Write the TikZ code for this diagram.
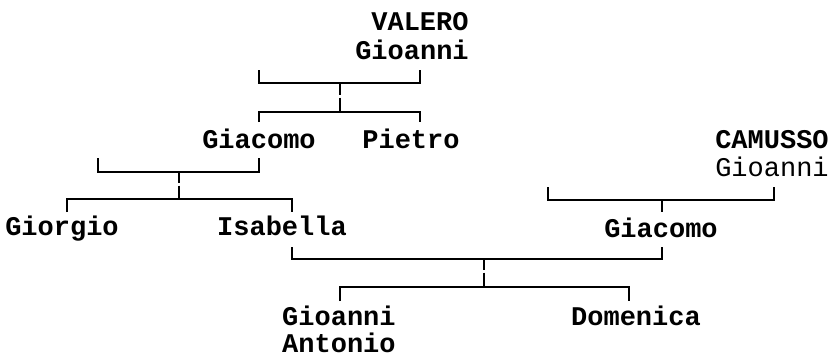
\documentclass[tikz,border=0pt]{standalone}
\usepackage{fontspec}
\setmonofont{Liberation Mono}
\begin{document}
\begin{tikzpicture}[x=1pt,y=-1pt,
  person/.style={font=\ttfamily\bfseries\fontsize{27}{27}\selectfont, inner sep=0pt, anchor=base},
  lightperson/.style={font=\ttfamily\fontsize{27}{27}\selectfont, inner sep=0pt, anchor=base},
  link/.style={line width=2pt, line cap=butt, line join=miter}]
\useasboundingbox (0,0) rectangle (830,356);
% names
\node[person] (valero) at (420,30) {VALERO};
\node[person] (gioV) at (412,59) {Gioanni};
\node[person] (giacV) at (259,148) {Giacomo};
\node[person] (pietro) at (411,148) {Pietro};
\node[person] (giorgio) at (62,235) {Giorgio};
\node[person] (isabella) at (282,235) {Isabella};
\node[person] (camusso) at (772,148) {CAMUSSO};
\node[lightperson] (gioC) at (772,176) {Gioanni};
\node[person] (giacC) at (661,237) {Giacomo};
\node[person, anchor=base west] (gioA) at (282,325) {Gioanni};
\node[person, anchor=base west] (antonio) at (282,352) {Antonio};
\node[person] (domenica) at (636,325) {Domenica};
% bracket 1
\coordinate (a1) at (259,70); \coordinate (a2) at (420,70);
\coordinate (am) at (340,83); \coordinate (an) at (340,112);
\coordinate (ab1) at (259,122); \coordinate (ab2) at (420,122);
\draw[link] (a1) |- (am) -| (a2);
\draw[link] (am) -- ++(0,12) ++(0,2.5) -- (an);
\draw[link] (ab1) |- (an) -| (ab2);
% bracket 2
\coordinate (b1) at (98,158); \coordinate (b2) at (259,158);
\coordinate (bm) at (179,172); \coordinate (bn) at (179,199);
\coordinate (bb1) at (67,212); \coordinate (bb2) at (292,212);
\draw[link] (b1) |- (bm) -| (b2);
\draw[link] (bm) -- ++(0,11) ++(0,2.5) -- (bn);
\draw[link] (bb1) |- (bn) -| (bb2);
% bracket 3
\coordinate (c1) at (548,187); \coordinate (c2) at (774,187);
\coordinate (cm) at (662,200); \coordinate (cn) at (662,212);
\draw[link] (c1) |- (cm) -| (c2);
\draw[link] (cm) -- (cn);
% bracket 4
\coordinate (d1) at (292,247); \coordinate (d2) at (662,247);
\coordinate (dm) at (484,259); \coordinate (dn) at (484,287);
\coordinate (db1) at (340,301); \coordinate (db2) at (629,301);
\draw[link] (d1) |- (dm) -| (d2);
\draw[link] (dm) -- ++(0,11) ++(0,2.5) -- (dn);
\draw[link] (db1) |- (dn) -| (db2);
\end{tikzpicture}
\end{document}
